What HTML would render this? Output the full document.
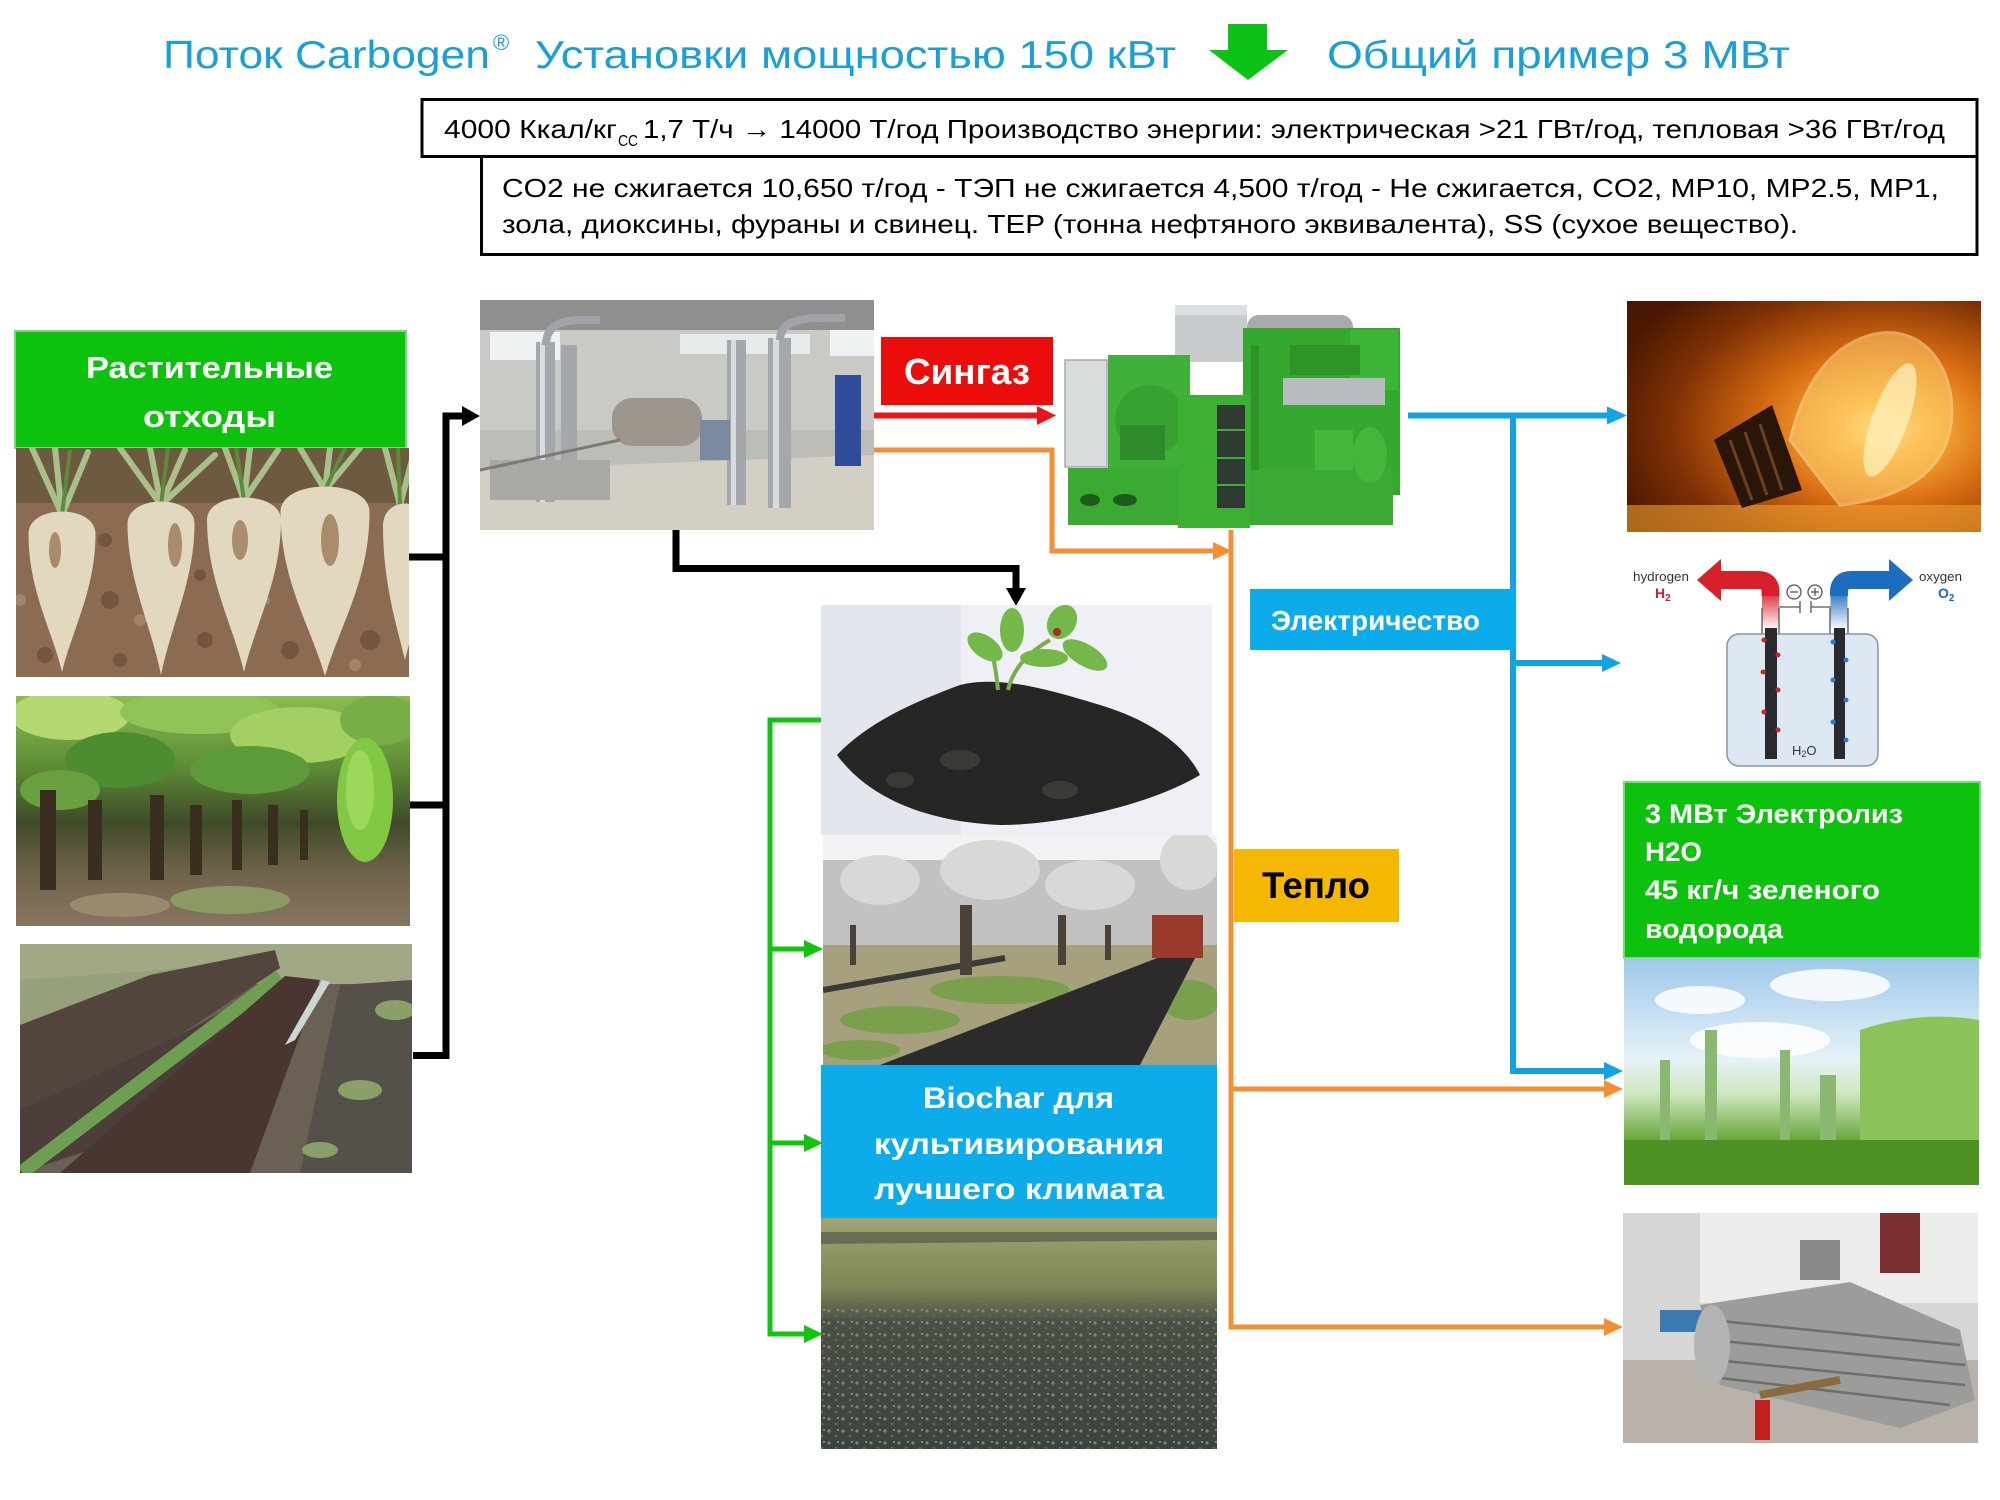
<!DOCTYPE html>
<html lang="ru"><head><meta charset="utf-8"><title>Carbogen</title>
<style>
html,body{margin:0;padding:0;background:#fff;width:2000px;height:1500px;overflow:hidden}
svg{display:block}
text{font-family:"Liberation Sans","DejaVu Sans",sans-serif}
.b{font-weight:bold}
</style></head><body>
<svg xmlns="http://www.w3.org/2000/svg" width="2000" height="1500" viewBox="0 0 2000 1500">
<defs>
<clipPath id="cBeet"><rect x="16" y="448" width="393" height="229"/></clipPath>
<clipPath id="cBan"><rect x="16" y="696" width="394" height="230"/></clipPath>
<clipPath id="cPeat"><rect x="20" y="944" width="392" height="229"/></clipPath>
<clipPath id="cFac"><rect x="480" y="300" width="394" height="230"/></clipPath>
<clipPath id="cSoil"><rect x="821" y="605" width="391" height="230"/></clipPath>
<clipPath id="cOrch"><rect x="823" y="835" width="394" height="230"/></clipPath>
<clipPath id="cField"><rect x="821" y="1218" width="396" height="231"/></clipPath>
<clipPath id="cBulb"><rect x="1627" y="301" width="354" height="231"/></clipPath>
<clipPath id="cCity"><rect x="1624" y="958" width="355" height="227"/></clipPath>
<clipPath id="cHex"><rect x="1623" y="1213" width="355" height="230"/></clipPath>
<linearGradient id="gBan" x1="0" y1="0" x2="0" y2="1">
 <stop offset="0" stop-color="#8cbc52"/><stop offset="0.3" stop-color="#5f8d36"/>
 <stop offset="0.55" stop-color="#3e4b29"/><stop offset="0.75" stop-color="#6e6149"/>
 <stop offset="1" stop-color="#867660"/>
</linearGradient>
<radialGradient id="gBulb" cx="0.72" cy="0.55" r="0.8">
 <stop offset="0" stop-color="#ffe9a0"/><stop offset="0.15" stop-color="#fbb43e"/>
 <stop offset="0.42" stop-color="#d86c12"/><stop offset="0.75" stop-color="#7e3005"/>
 <stop offset="1" stop-color="#4a1800"/>
</radialGradient>
<linearGradient id="gSky" x1="0" y1="0" x2="0" y2="1">
 <stop offset="0" stop-color="#9ec8ea"/><stop offset="0.45" stop-color="#e6f2f8"/>
 <stop offset="0.6" stop-color="#cfe6c0"/><stop offset="0.8" stop-color="#6aa83a"/>
 <stop offset="1" stop-color="#4a8a22"/>
</linearGradient>
<linearGradient id="gField" x1="0" y1="0" x2="0" y2="1">
 <stop offset="0" stop-color="#a0a474"/><stop offset="0.3" stop-color="#7e8656"/>
 <stop offset="0.45" stop-color="#4a5046"/><stop offset="1" stop-color="#3c423e"/>
</linearGradient>
<pattern id="pSpeck" width="14" height="12" patternUnits="userSpaceOnUse">
 <rect width="14" height="12" fill="none"/>
 <circle cx="3" cy="3" r="1.6" fill="#7c8670"/><circle cx="10" cy="8" r="1.4" fill="#5e6a58"/>
 <circle cx="12" cy="2" r="1" fill="#9aa088"/>
</pattern>
<linearGradient id="gRedPipe" x1="0" y1="0" x2="0" y2="1">
 <stop offset="0" stop-color="#d8202a"/><stop offset="1" stop-color="#ffffff"/>
</linearGradient>
<linearGradient id="gBluePipe" x1="0" y1="0" x2="0" y2="1">
 <stop offset="0" stop-color="#1c6cc0"/><stop offset="1" stop-color="#ffffff"/>
</linearGradient>
</defs>
<rect width="2000" height="1500" fill="#fff"/>

<!-- ===== TITLE ===== -->
<text x="163" y="68" font-size="39" fill="#1b9fd9" textLength="327" lengthAdjust="spacingAndGlyphs">Поток Carbogen</text>
<text x="493" y="50" font-size="22" fill="#1b9fd9">®</text>
<text x="535" y="68" font-size="39" fill="#1b9fd9" textLength="641" lengthAdjust="spacingAndGlyphs">Установки мощностью 150 кВт</text>
<polygon points="1228,24 1267,24 1267,50 1288,50 1248,80 1209,50 1228,50" fill="#0cc216"/>
<text x="1327" y="68" font-size="39" fill="#1b9fd9" textLength="463" lengthAdjust="spacingAndGlyphs">Общий пример 3 МВт</text>

<!-- ===== INFO BOXES ===== -->
<rect x="422" y="99.5" width="1555" height="57" fill="#fff" stroke="#000" stroke-width="3"/>
<rect x="481.5" y="156.5" width="1495.5" height="98" fill="#fff" stroke="#000" stroke-width="3"/>
<text x="444" y="138" font-size="26" fill="#000" textLength="173" lengthAdjust="spacingAndGlyphs">4000 Ккал/кг</text>
<text x="618" y="146" font-size="16" fill="#000" textLength="20" lengthAdjust="spacingAndGlyphs">CC</text>
<text x="643" y="138" font-size="26" fill="#000" textLength="1302" lengthAdjust="spacingAndGlyphs">1,7 Т/ч → 14000 Т/год Производство энергии: электрическая &gt;21 ГВт/год, тепловая &gt;36 ГВт/год</text>
<text x="502" y="197" font-size="26" fill="#000" textLength="1437" lengthAdjust="spacingAndGlyphs">CO2 не сжигается 10,650 т/год - ТЭП не сжигается 4,500 т/год - Не сжигается, CO2, MP10, MP2.5, MP1,</text>
<text x="502" y="233" font-size="26" fill="#000" textLength="1296" lengthAdjust="spacingAndGlyphs">зола, диоксины, фураны и свинец. TEP (тонна нефтяного эквивалента), SS (сухое вещество).</text>

<!-- ===== LEFT COLUMN ===== -->
<rect x="15" y="331" width="391" height="117" fill="#0cc20c" stroke="#74dc74" stroke-width="2"/>
<text x="86" y="378" font-size="31" class="b" fill="#fff" textLength="247" lengthAdjust="spacingAndGlyphs">Растительные</text>
<text x="143" y="427" font-size="31" class="b" fill="#fff" textLength="133" lengthAdjust="spacingAndGlyphs">отходы</text>

<!-- beet photo -->
<g clip-path="url(#cBeet)">
<rect x="16" y="448" width="393" height="229" fill="#8b6b52"/>
<rect x="16" y="448" width="393" height="55" fill="#6e5a40"/>
<g fill="#74563f">
<circle cx="110" cy="600" r="9"/><circle cx="205" cy="640" r="8"/><circle cx="120" cy="660" r="7"/>
<circle cx="290" cy="650" r="9"/><circle cx="45" cy="655" r="8"/><circle cx="370" cy="640" r="10"/>
<circle cx="105" cy="540" r="7"/><circle cx="200" cy="575" r="6"/>
</g>
<g fill="#a3846a"><circle cx="140" cy="620" r="6"/><circle cx="265" cy="600" r="5"/><circle cx="355" cy="665" r="6"/><circle cx="20" cy="600" r="6"/></g>
<g stroke="#a9c08a" stroke-width="6" fill="none" stroke-linecap="round">
<path d="M62 515 L32 448 M62 515 L55 448 M62 515 L88 452"/>
<path d="M161 505 L120 448 M161 505 L150 448 M161 505 L185 450 M161 505 L215 455"/>
<path d="M244 500 L225 448 M244 500 L250 448 M244 500 L278 450"/>
<path d="M325 490 L300 448 M325 490 L330 448 M325 490 L360 448"/>
<path d="M400 505 L385 448 M400 505 L412 460"/>
</g>
<g stroke="#5e8a3c" stroke-width="4" fill="none">
<path d="M62 515 L70 450 M161 505 L168 448 M244 500 L236 448 M325 490 L345 448 M400 505 L398 448"/>
</g>
<g fill="#e2d7bf">
<path d="M28.5 534 C28.5 504 95.5 504 95.5 534 C95.5 590 72 630 62 672 C52 630 28.5 590 28.5 534 Z"/>
<path d="M127.5 524 C127.5 494 194.5 494 194.5 524 C194.5 580 171 625 161 675 C151 625 127.5 580 127.5 524 Z"/>
<path d="M207 520 C207 490 281 490 281 520 C281 580 255 625 244 672 C233 625 207 580 207 520 Z"/>
<path d="M280.5 512 C280.5 478 369.5 478 369.5 512 C369.5 580 340 625 325 676 C310 625 280.5 580 280.5 512 Z"/>
<path d="M383 526 C383 496 427 496 427 526 C427 580 415 620 405 660 C395 620 383 580 383 526 Z"/>
</g>
<g fill="#a88c6c">
<ellipse cx="55" cy="550" rx="6" ry="18"/><ellipse cx="175" cy="545" rx="7" ry="22"/>
<ellipse cx="240" cy="540" rx="8" ry="20"/><ellipse cx="330" cy="540" rx="9" ry="26"/>
</g>
</g>

<!-- banana photo -->
<g clip-path="url(#cBan)">
<rect x="16" y="696" width="394" height="230" fill="url(#gBan)"/>
<ellipse cx="70" cy="715" rx="60" ry="25" fill="#b4d870"/>
<ellipse cx="200" cy="712" rx="80" ry="22" fill="#90c456"/>
<ellipse cx="300" cy="735" rx="70" ry="28" fill="#a4cf62"/>
<ellipse cx="120" cy="760" rx="55" ry="28" fill="#4e8c32"/>
<ellipse cx="250" cy="770" rx="60" ry="24" fill="#5c9a3a"/>
<ellipse cx="380" cy="720" rx="40" ry="25" fill="#78ae48"/>
<ellipse cx="60" cy="790" rx="40" ry="20" fill="#6aa040"/>
<g fill="#3a2e1e">
<rect x="40" y="790" width="16" height="100"/><rect x="88" y="800" width="14" height="80"/>
<rect x="150" y="795" width="14" height="85"/><rect x="190" y="805" width="12" height="70"/>
<rect x="232" y="800" width="10" height="70"/><rect x="268" y="805" width="10" height="60"/>
<rect x="300" y="810" width="8" height="50"/>
</g>
<ellipse cx="365" cy="800" rx="28" ry="62" fill="#82c844"/>
<ellipse cx="360" cy="790" rx="14" ry="40" fill="#9cd85a"/>
<ellipse cx="230" cy="900" rx="60" ry="14" fill="#8a9a62"/>
<ellipse cx="120" cy="905" rx="50" ry="12" fill="#9a8a70"/>
</g>

<!-- peat photo -->
<g clip-path="url(#cPeat)">
<rect x="20" y="944" width="392" height="229" fill="#6a6054"/>
<rect x="20" y="944" width="392" height="40" fill="#a0a886"/>
<polygon points="20,980 230,965 20,1030" fill="#96a07a"/>
<polygon points="20,1025 150,975 275,950 280,968 180,1035 20,1110" fill="#54443e"/>
<polygon points="20,1110 180,1035 270,985 285,995 120,1140 20,1173" fill="#4c3e3a"/>
<line x1="22" y1="1172" x2="280" y2="976" stroke="#6e9e52" stroke-width="14"/>
<polygon points="60,1173 250,1173 320,980 285,976" fill="#4a3631"/>
<polygon points="285,1045 295,1040 330,982 322,980" fill="#cdd6d6"/>
<polygon points="300,1173 412,1173 412,980 340,985" fill="#56504a"/>
<ellipse cx="360" cy="1090" rx="22" ry="10" fill="#8aa068"/>
<ellipse cx="320" cy="1150" rx="18" ry="8" fill="#8aa068"/>
<ellipse cx="395" cy="1010" rx="20" ry="10" fill="#8aa068"/>
</g>

<!-- black connectors left -->
<g stroke="#000" stroke-width="7" fill="none">
<line x1="446" y1="412.5" x2="446" y2="1059"/>
<line x1="442.5" y1="416" x2="464" y2="416"/>
<line x1="409" y1="557" x2="446" y2="557"/>
<line x1="410" y1="805" x2="446" y2="805"/>
<line x1="413" y1="1055.5" x2="449" y2="1055.5"/>
<polyline points="676,530 676,568.5 1016,568.5 1016,592"/>
</g>
<polygon points="462,406 480,416 462,426" fill="#000"/>
<polygon points="1006,588 1016,606 1026,588" fill="#000"/>

<!-- factory photo -->
<g clip-path="url(#cFac)">
<rect x="480" y="300" width="394" height="230" fill="#bdbdb8"/>
<rect x="480" y="300" width="394" height="30" fill="#8e908f"/>
<rect x="480" y="330" width="394" height="100" fill="#c9cac6"/>
<rect x="490" y="332" width="70" height="28" fill="#eef2f2"/>
<rect x="680" y="334" width="130" height="20" fill="#e6eaea"/>
<rect x="830" y="330" width="44" height="26" fill="#eef2f2"/>
<polygon points="480,470 874,455 874,530 480,530" fill="#d4cfc4"/>
<g fill="#a4a8ac">
<rect x="536" y="342" width="19" height="160"/><rect x="561" y="345" width="16" height="155"/>
<rect x="727" y="340" width="19" height="165"/><rect x="768" y="338" width="23" height="170"/>
</g>
<g fill="#d8dcdf">
<rect x="540" y="342" width="5" height="160"/><rect x="731" y="340" width="5" height="165"/><rect x="773" y="338" width="6" height="170"/>
</g>
<path d="M546 345 Q546 320 580 320 L600 320" stroke="#a0a4a8" stroke-width="8" fill="none"/>
<path d="M780 340 Q780 318 820 318 L845 318" stroke="#a0a4a8" stroke-width="8" fill="none"/>
<rect x="612" y="398" width="90" height="48" rx="20" fill="#9c968c"/>
<rect x="835" y="375" width="26" height="91" fill="#2e4c9a"/>
<rect x="490" y="460" width="120" height="40" fill="#a8a8a4"/>
<line x1="480" y1="470" x2="620" y2="440" stroke="#7a7a78" stroke-width="3"/>
<rect x="700" y="420" width="30" height="40" fill="#7a8aa0"/>
</g>

<!-- red syngas -->
<rect x="881" y="337" width="172" height="68" fill="#ec0c0c"/>
<text x="904" y="384" font-size="36" class="b" fill="#fff" textLength="126" lengthAdjust="spacingAndGlyphs">Сингаз</text>
<line x1="874" y1="415.5" x2="1039" y2="415.5" stroke="#e8141c" stroke-width="6"/>
<polygon points="1037,406 1056,415.5 1037,425" fill="#e8141c"/>

<!-- orange lines -->
<g stroke="#f39036" stroke-width="5" fill="none">
<polyline points="874,450 1052,450 1052,551 1216,551"/>
<line x1="1231" y1="530" x2="1231" y2="1329.5"/>
<line x1="1231" y1="1089" x2="1607" y2="1089"/>
<line x1="1228.5" y1="1327" x2="1607" y2="1327"/>
</g>
<polygon points="1213,542 1232,551 1213,560" fill="#f39036"/>
<polygon points="1604,1080 1623,1089 1604,1098" fill="#f39036"/>
<polygon points="1604,1318 1623,1327 1604,1336" fill="#f39036"/>

<!-- generator -->
<g>
<rect x="1175" y="305" width="72" height="57" fill="#c8ccce"/>
<rect x="1175" y="305" width="72" height="10" fill="#dcdfe0"/>
<rect x="1247" y="315" width="106" height="30" rx="12" fill="#a8aaac"/>
<rect x="1243" y="328" width="157" height="167" fill="#35a82f"/>
<rect x="1350" y="330" width="48" height="60" fill="#3eb536"/>
<rect x="1283" y="378" width="102" height="27" fill="#b8bcbe"/>
<rect x="1290" y="345" width="70" height="30" fill="#2f9428"/>
<rect x="1108" y="355" width="82" height="113" fill="#3fb03a"/>
<circle cx="1150" cy="420" r="35" fill="#37a232"/>
<rect x="1120" y="425" width="45" height="35" fill="#2e8a2a"/>
<rect x="1065" y="360" width="42" height="107" fill="#d8dcdc" stroke="#a8acac" stroke-width="1.5"/>
<rect x="1068" y="468" width="325" height="57" fill="#3aaa33"/>
<ellipse cx="1090" cy="500" rx="10" ry="6" fill="#1e5a1a"/>
<ellipse cx="1125" cy="500" rx="12" ry="6" fill="#1e5a1a"/>
<rect x="1178" y="395" width="72" height="133" fill="#3cb035"/>
<rect x="1217" y="405" width="28" height="103" fill="#2e3a32"/>
<g stroke="#3cb035" stroke-width="2"><line x1="1217" y1="430" x2="1245" y2="430"/><line x1="1217" y1="458" x2="1245" y2="458"/><line x1="1217" y1="485" x2="1245" y2="485"/></g>
<rect x="1315" y="430" width="38" height="40" fill="#44b83c"/>
<ellipse cx="1370" cy="455" rx="17" ry="28" fill="#45b63c"/>
<path d="M1255 345 L1255 470" stroke="#2e9428" stroke-width="8"/>
</g>

<!-- soil photo -->
<g clip-path="url(#cSoil)">
<rect x="821" y="605" width="391" height="230" fill="#eff0f5"/>
<rect x="821" y="605" width="140" height="230" fill="#e4e6ee"/>
<path d="M837,755 C870,720 920,700 960,685 C1000,675 1050,690 1100,705 C1150,720 1185,745 1200,775 C1150,805 1060,825 1000,825 C930,822 870,800 837,755 Z" fill="#262624"/>
<g fill="#3a3a36"><ellipse cx="960" cy="760" rx="20" ry="10"/><ellipse cx="1060" cy="790" rx="18" ry="9"/><ellipse cx="900" cy="780" rx="14" ry="8"/></g>
<path d="M998 690 Q995 660 990 648 M1008 690 Q1015 660 1050 640" stroke="#7aae4a" stroke-width="4" fill="none"/>
<g fill="#74b84a">
<ellipse cx="985" cy="647" rx="20" ry="11" transform="rotate(35 985 647)"/>
<ellipse cx="1012" cy="630" rx="12" ry="22"/>
<ellipse cx="1062" cy="622" rx="14" ry="18" transform="rotate(30 1062 622)"/>
<ellipse cx="1085" cy="655" rx="25" ry="11" transform="rotate(30 1085 655)"/>
<ellipse cx="1044" cy="658" rx="24" ry="9"/>
</g>
<circle cx="1057" cy="632" r="4" fill="#a03020"/>
</g>

<!-- orchard photo -->
<g clip-path="url(#cOrch)">
<rect x="823" y="835" width="394" height="230" fill="#f2f2f4"/>
<polygon points="823,875 870,870 900,890 823,900" fill="#9a96a8"/>
<rect x="823" y="860" width="394" height="95" fill="#c2c2c0"/>
<g fill="#d8d8d6">
<ellipse cx="880" cy="880" rx="40" ry="25"/><ellipse cx="990" cy="870" rx="50" ry="30"/><ellipse cx="1090" cy="885" rx="45" ry="25"/><ellipse cx="1190" cy="860" rx="30" ry="30"/>
</g>
<rect x="823" y="945" width="394" height="120" fill="#a6a07c"/>
<g fill="#7aa04e">
<ellipse cx="900" cy="1020" rx="60" ry="14"/><ellipse cx="1000" cy="990" rx="70" ry="14"/><ellipse cx="860" cy="1050" rx="40" ry="10"/><ellipse cx="1190" cy="1000" rx="30" ry="20"/>
</g>
<polygon points="880,1065 1140,1065 1195,958 1165,955" fill="#2c2a2a"/>
<line x1="823" y1="990" x2="1005" y2="958" stroke="#3a3a38" stroke-width="6"/>
<g fill="#4a4238">
<rect x="960" y="905" width="12" height="70"/><rect x="1058" y="915" width="8" height="50"/><rect x="1105" y="925" width="6" height="35"/><rect x="850" y="925" width="6" height="40"/>
</g>
<rect x="1152" y="915" width="51" height="43" fill="#9a3a2a"/>
</g>

<!-- biochar blue -->
<rect x="821" y="1065" width="396" height="153" fill="#0caceb"/>
<text x="923" y="1108" font-size="30" class="b" fill="#fff" textLength="191" lengthAdjust="spacingAndGlyphs">Biochar для</text>
<text x="874" y="1154" font-size="30" class="b" fill="#fff" textLength="290" lengthAdjust="spacingAndGlyphs">культивирования</text>
<text x="874" y="1199" font-size="30" class="b" fill="#fff" textLength="290" lengthAdjust="spacingAndGlyphs">лучшего климата</text>

<!-- field photo -->
<g clip-path="url(#cField)">
<rect x="821" y="1218" width="396" height="231" fill="url(#gField)"/>
<rect x="821" y="1300" width="396" height="149" fill="url(#pSpeck)"/>
<polygon points="821,1232 1217,1232 1217,1240 821,1244" fill="#4a5040" opacity="0.6"/>
</g>

<!-- green connectors -->
<g stroke="#12c40f" stroke-width="5" fill="none">
<polyline points="821,720 770,720 770,1334 806,1334"/>
<line x1="770" y1="949" x2="806" y2="949"/>
<line x1="770" y1="1143" x2="806" y2="1143"/>
</g>
<polygon points="804,940 823,949 804,958" fill="#12c40f"/>
<polygon points="804,1134 823,1143 804,1152" fill="#12c40f"/>
<polygon points="804,1325 823,1334 804,1343" fill="#12c40f"/>

<!-- teplo -->
<rect x="1234" y="849" width="165" height="73" fill="#f6b700"/>
<text x="1262" y="898" font-size="37" class="b" fill="#000" textLength="108" lengthAdjust="spacingAndGlyphs">Тепло</text>

<!-- blue connectors -->
<g stroke="#12a3e3" stroke-width="6" fill="none">
<line x1="1408" y1="415.5" x2="1610" y2="415.5"/>
<line x1="1513" y1="412.5" x2="1513" y2="1074"/>
<line x1="1513" y1="663" x2="1605" y2="663"/>
<line x1="1510" y1="1071" x2="1607" y2="1071"/>
</g>
<polygon points="1607,406.5 1627,415.5 1607,424.5" fill="#12a3e3"/>
<polygon points="1602,654 1621,663 1602,672" fill="#12a3e3"/>
<polygon points="1604,1062 1623,1071 1604,1080" fill="#12a3e3"/>

<!-- electricity label -->
<rect x="1250" y="589" width="266" height="61" fill="#0caceb"/>
<text x="1271" y="630" font-size="28" class="b" fill="#fff" textLength="209" lengthAdjust="spacingAndGlyphs">Электричество</text>

<!-- bulb -->
<g clip-path="url(#cBulb)">
<rect x="1627" y="301" width="354" height="231" fill="url(#gBulb)"/>
<rect x="1627" y="505" width="354" height="27" fill="#f0a030" opacity="0.6"/>
<path d="M1790 440 C1800 400 1820 350 1870 335 C1930 320 1960 380 1950 430 C1940 480 1890 500 1840 505 Z" fill="#ffd070" opacity="0.55" stroke="#ffe2a0" stroke-width="3"/>
<ellipse cx="1890" cy="420" rx="18" ry="60" fill="#fff2c0" opacity="0.7" transform="rotate(20 1890 420)"/>
<polygon points="1714,440 1772,405 1802,490 1742,508" fill="#2a1608"/>
<g stroke="#6a4020" stroke-width="3"><line x1="1730" y1="440" x2="1752" y2="500"/><line x1="1745" y1="432" x2="1767" y2="495"/><line x1="1760" y1="424" x2="1782" y2="490"/></g>
</g>

<!-- electrolysis diagram -->
<text x="1633" y="581" font-size="13" fill="#333" textLength="56" lengthAdjust="spacingAndGlyphs">hydrogen</text>
<text x="1655" y="598" font-size="14" class="b" fill="#c0203a">H<tspan font-size="10" dy="3">2</tspan></text>
<text x="1919" y="581" font-size="13" fill="#333" textLength="43" lengthAdjust="spacingAndGlyphs">oxygen</text>
<text x="1938" y="598" font-size="14" class="b" fill="#1a6ab8">O<tspan font-size="10" dy="3">2</tspan></text>
<rect x="1762" y="590" width="17" height="40" fill="url(#gRedPipe)"/>
<path d="M1770.5 596 L1770.5 592 Q1770.5 580 1758 580 L1720 580" stroke="#d8202a" stroke-width="18" fill="none"/>
<polygon points="1721,559 1697,580 1721,601" fill="#d8202a"/>
<rect x="1830.5" y="590" width="17" height="40" fill="url(#gBluePipe)"/>
<path d="M1839 596 L1839 592 Q1839 580 1851 580 L1891 580" stroke="#1c6cc0" stroke-width="18" fill="none"/>
<polygon points="1889,559 1913,580 1889,601" fill="#1c6cc0"/>
<g stroke="#555" stroke-width="1.3" fill="none">
<circle cx="1794" cy="592" r="7"/><line x1="1790" y1="592" x2="1798" y2="592"/>
<circle cx="1815" cy="592" r="7"/><line x1="1811" y1="592" x2="1819" y2="592"/><line x1="1815" y1="588" x2="1815" y2="596"/>
<polyline points="1779,607 1800,607"/><line x1="1800" y1="601" x2="1800" y2="613"/>
<line x1="1811" y1="601" x2="1811" y2="613"/><polyline points="1811,607 1831,607"/>
<line x1="1762" y1="608" x2="1762" y2="634"/><line x1="1779" y1="608" x2="1779" y2="634"/>
<line x1="1830" y1="608" x2="1830" y2="634"/><line x1="1848" y1="608" x2="1848" y2="634"/>
</g>
<rect x="1727" y="634" width="151" height="132" rx="12" fill="#dde8f4" stroke="#8a96a6" stroke-width="1.5"/>
<rect x="1765" y="628" width="12" height="131" fill="#2a2a2e"/>
<rect x="1834" y="628" width="11" height="131" fill="#2a2a2e"/>
<g fill="#d02030"><circle cx="1764" cy="640" r="2.5"/><circle cx="1778" cy="655" r="2.5"/><circle cx="1763" cy="672" r="2.5"/><circle cx="1778" cy="690" r="2.5"/><circle cx="1764" cy="712" r="2.5"/><circle cx="1778" cy="730" r="2.5"/></g>
<g fill="#2a80d0"><circle cx="1833" cy="642" r="2.5"/><circle cx="1846" cy="660" r="2.5"/><circle cx="1833" cy="680" r="2.5"/><circle cx="1846" cy="700" r="2.5"/><circle cx="1833" cy="722" r="2.5"/><circle cx="1846" cy="740" r="2.5"/></g>
<text x="1792" y="755" font-size="13" fill="#333">H<tspan font-size="9" dy="2">2</tspan><tspan dy="-2">O</tspan></text>

<!-- green right box -->
<rect x="1624" y="782" width="356" height="176" fill="#0cc20c" stroke="#74dc74" stroke-width="2"/>
<text x="1645" y="823" font-size="27" class="b" fill="#fff" textLength="258" lengthAdjust="spacingAndGlyphs">3 МВт Электролиз</text>
<text x="1645" y="861" font-size="27" class="b" fill="#fff" textLength="57" lengthAdjust="spacingAndGlyphs">H2O</text>
<text x="1645" y="899" font-size="27" class="b" fill="#fff" textLength="235" lengthAdjust="spacingAndGlyphs">45 кг/ч зеленого</text>
<text x="1645" y="938" font-size="27" class="b" fill="#fff" textLength="138" lengthAdjust="spacingAndGlyphs">водорода</text>

<!-- green city photo -->
<g clip-path="url(#cCity)">
<rect x="1624" y="958" width="355" height="227" fill="url(#gSky)"/>
<g fill="#ffffff" opacity="0.85"><ellipse cx="1700" cy="1000" rx="45" ry="14"/><ellipse cx="1830" cy="985" rx="60" ry="16"/><ellipse cx="1760" cy="1040" rx="70" ry="18"/></g>
<g fill="#8ab870">
<rect x="1660" y="1060" width="10" height="125"/><rect x="1705" y="1030" width="12" height="155"/><rect x="1780" y="1050" width="10" height="135"/><rect x="1820" y="1075" width="16" height="110"/>
</g>
<path d="M1860 1185 L1860 1030 Q1920 1010 1979 1020 L1979 1185 Z" fill="#8cc25a"/>
<rect x="1624" y="1140" width="355" height="45" fill="#4e9226"/>
</g>

<!-- heat exchanger photo -->
<g clip-path="url(#cHex)">
<rect x="1623" y="1213" width="355" height="230" fill="#d6d6d4"/>
<rect x="1700" y="1213" width="280" height="90" fill="#ececea"/>
<rect x="1800" y="1240" width="40" height="40" fill="#8a8a88"/>
<rect x="1880" y="1213" width="40" height="60" fill="#7a3030"/>
<rect x="1660" y="1310" width="60" height="22" fill="#3a7ab0"/>
<rect x="1623" y="1360" width="355" height="83" fill="#b8b2aa"/>
<polygon points="1700,1305 1850,1282 1960,1330 1975,1400 1900,1428 1720,1385" fill="#9c9c9a"/>
<g stroke="#6e6e6c" stroke-width="2.5"><line x1="1710" y1="1320" x2="1960" y2="1345"/><line x1="1712" y1="1340" x2="1965" y2="1365"/><line x1="1715" y1="1360" x2="1965" y2="1385"/><line x1="1720" y1="1378" x2="1950" y2="1405"/></g>
<ellipse cx="1712" cy="1345" rx="18" ry="40" fill="#b4b4b2"/>
<rect x="1755" y="1400" width="15" height="40" fill="#c02020"/>
<line x1="1760" y1="1395" x2="1840" y2="1380" stroke="#8a6a40" stroke-width="8"/>
</g>
</svg>
</body></html>
